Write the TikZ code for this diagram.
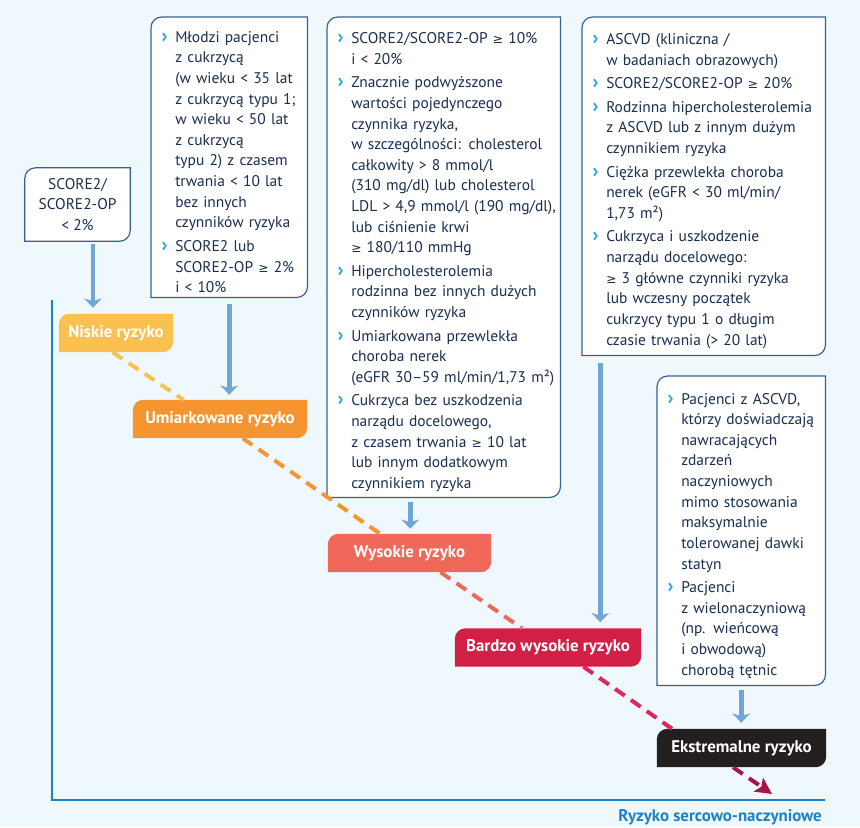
\documentclass[tikz,border=0pt]{standalone}
\usepackage{fontspec}
\setmainfont{PT Sans}
\newfontfamily\dejavu{DejaVu Sans}
\usetikzlibrary{arrows.meta,calc,backgrounds}

\definecolor{bgblue}{RGB}{239,248,252}
\definecolor{framec}{RGB}{52,98,146}
\definecolor{inkc}{RGB}{26,46,80}
\definecolor{bulc}{RGB}{38,166,224}
\definecolor{feedc}{RGB}{112,166,214}
\definecolor{axisc}{RGB}{28,130,196}
\definecolor{lowc}{RGB}{250,192,80}
\definecolor{modc}{RGB}{246,148,48}
\definecolor{highc}{RGB}{240,104,90}
\definecolor{vhighc}{RGB}{211,31,70}
\definecolor{extc}{RGB}{35,31,32}
\definecolor{trendc}{RGB}{224,38,88}
\definecolor{endc}{RGB}{166,20,74}

\newcommand{\diagfont}{\fontsize{13.2}{17.6}\selectfont}
\newcommand{\labelfont}{\fontsize{14.4}{17.6}\selectfont\bfseries}
\newcommand{\geqs}{{\dejavu\fontsize{10.5}{10.5}\selectfont ≥}}
% bulleted criteria inside the white boxes
\newenvironment{crit}{%
  \begin{list}{\textcolor{bulc}{\fontsize{16.5}{16.5}\selectfont\bfseries ›}}{%
    \setlength{\leftmargin}{20.5pt}\setlength{\labelwidth}{13pt}%
    \setlength{\labelsep}{6.5pt}\setlength{\rightmargin}{0pt}%
    \setlength{\itemsep}{2.5pt}\setlength{\parsep}{0pt}%
    \setlength{\topsep}{0pt}\setlength{\partopsep}{0pt}}\raggedright}%
  {\end{list}}

\begin{document}
\begin{tikzpicture}[>=Stealth, font=\diagfont]
  \tikzset{
    critbox/.style={text=inkc, align=left, inner xsep=0pt, inner ysep=0pt, anchor=north west},
    riskbox/.style={text=white, font=\labelfont, minimum height=1.14cm, inner sep=0pt},
    cutcorner/.style={insert path={([yshift=-0.32cm]#1.north west) arc[start angle=180,end angle=90,radius=0.32cm]
      -- (#1.north east) -- ([yshift=0.32cm]#1.south east) arc[start angle=0,end angle=-90,radius=0.32cm]
      -- (#1.south west) -- cycle}},
    feed/.style={draw=feedc, line width=4.2pt, -{Stealth[length=8pt,width=15pt,inset=2.5pt]}},
    trend/.style={line width=3.4pt, dash pattern=on 10pt off 6.5pt},
    axis/.style={draw=axisc, line width=1.8pt}
  }
  \useasboundingbox (0,0) rectangle (25.8,-24.81);

  % criteria boxes
  \node[text=inkc, align=center, minimum width=3.15cm, minimum height=2.19cm] (boxa) at (2.325,-6.135)
    {SCORE2/\\SCORE2-OP\\< 2\%};
  \node[critbox, text width=4.68cm, minimum height=8.4cm] (boxb) at (4.53,-0.51) {\begin{crit}
    \item Młodzi pacjenci\\ z cukrzycą\\ (w wieku < 35 lat\\ z cukrzycą typu 1;\\ w wieku < 50 lat\\ z cukrzycą\\ typu 2) z czasem\\ trwania < 10 lat\\ bez innych\\ czynników ryzyka
    \item SCORE2 lub\\ SCORE2-OP \geqs{} 2\%\\ i < 10\%
  \end{crit}};
  \node[critbox, text width=6.99cm, minimum height=14.4cm] (boxc) at (9.81,-0.51) {\begin{crit}
    \item SCORE2/SCORE2-OP \geqs{} 10\%\\ i < 20\%
    \item Znacznie podwyższone\\ wartości pojedynczego\\ czynnika ryzyka,\\ w szczególności: cholesterol\\ całkowity > 8 mmol/l\\ (310 mg/dl) lub cholesterol\\ LDL > 4,9 mmol/l (190 mg/dl),\\ lub ciśnienie krwi\\ \geqs{} 180/110 mmHg
    \item Hipercholesterolemia\\ rodzinna bez innych dużych\\ czynników ryzyka
    \item Umiarkowana przewlekła\\ choroba nerek\\ (eGFR 30–59 ml/min/1,73 m²)
    \item Cukrzyca bez uszkodzenia\\ narządu docelowego,\\ z czasem trwania \geqs{} 10 lat\\ lub innym dodatkowym\\ czynnikiem ryzyka
  \end{crit}};
  \node[critbox, text width=7.29cm, minimum height=10.14cm] (boxd) at (17.46,-0.51) {\begin{crit}
    \item ASCVD (kliniczna /\\ w badaniach obrazowych)
    \item SCORE2/SCORE2-OP \geqs{} 20\%
    \item Rodzinna hipercholesterolemia\\ z ASCVD lub z innym dużym\\ czynnikiem ryzyka
    \item Ciężka przewlekła choroba\\ nerek (eGFR < 30 ml/min/\\ 1,73 m²)
    \item Cukrzyca i uszkodzenie\\ narządu docelowego:\\ \geqs{} 3 główne czynniki ryzyka\\ lub wczesny początek\\ cukrzycy typu 1 o długim\\ czasie trwania (> 20 lat)
  \end{crit}};
  \node[critbox, text width=5.04cm, minimum height=9.27cm] (boxe) at (19.71,-11.28) {\begin{crit}
    \item Pacjenci z ASCVD,\\ którzy doświadczają\\ nawracających\\ zdarzeń\\ naczyniowych\\ mimo stosowania\\ maksymalnie\\ tolerowanej dawki\\ statyn
    \item Pacjenci\\ z wielonaczyniową\\ (np. wieńcową\\ i obwodową)\\ chorobą tętnic
  \end{crit}};

  % risk levels
  \node[riskbox, minimum width=3.42cm] (niskie) at (3.48,-9.99) {Niskie ryzyko};
  \node[riskbox, minimum width=5.22cm] (umiar) at (6.6,-12.57) {Umiarkowane ryzyko};
  \node[riskbox, minimum width=4.89cm] (wysokie) at (12.285,-16.59) {Wysokie ryzyko};
  \node[riskbox, minimum width=5.58cm] (bardzo) at (16.44,-19.425) {Bardzo wysokie ryzyko};
  \node[riskbox, minimum width=5.07cm] (ekstr) at (22.245,-22.44) {Ekstremalne ryzyko};

  % axis
  \coordinate (axtop) at (1.56,-9.0);
  \coordinate (axcorner) at (1.56,-24.0);
  \coordinate (axend) at (24.75,-24.0);
  \coordinate (riskend) at (23.16,-23.82);
  \draw[axis] (axtop) -- (axcorner) -- (axend);
  \node[anchor=east, text=axisc, font=\labelfont, inner sep=0pt] (axlabel) at (24.66,-24.51) {Ryzyko sercowo-naczyniowe};

  \begin{pgfonlayer}{background}
    \fill[bgblue] (0,0) rectangle (25.8,-24.81);
    \foreach \b in {boxa,boxb,boxc,boxd,boxe}
      \filldraw[fill=white, draw=framec, line width=1pt, cutcorner=\b];
    \foreach \r/\c in {niskie/lowc,umiar/modc,wysokie/highc,bardzo/vhighc,ekstr/extc}
      \fill[\c, cutcorner=\r];
  \end{pgfonlayer}

  % box -> risk level
  \draw[feed, shorten <=0.09cm, shorten >=0.18cm] ([xshift=0.465cm]boxa.south) -- ([xshift=0.465cm]boxa.south |- niskie.north);
  \draw[feed, shorten <=0.21cm, shorten >=0.15cm] (boxb.south) -- (boxb.south |- umiar.north);
  \draw[feed, shorten <=0.15cm, shorten >=0.15cm] ([xshift=-1.005cm]boxc.south) -- ([xshift=-1.005cm]boxc.south |- wysokie.north);
  \draw[feed, shorten <=0.24cm, shorten >=0.18cm] ([xshift=-3.105cm]boxd.south) -- ([xshift=-3.105cm]boxd.south |- bardzo.north);
  \draw[feed, shorten <=0.15cm, shorten >=0.18cm] (boxe.south) -- (boxe.south |- ekstr.north);

  % rising risk
  \draw[trend, lowc] ($(niskie.south west)!0.47!(niskie.south east)$) -- ($(umiar.north west)!0.29!(umiar.north east)$);
  \draw[trend, modc] ($(umiar.south west)!0.63!(umiar.south east)$) -- ($(wysokie.north west)!0.32!(wysokie.north east)$);
  \draw[trend, highc] ($(wysokie.south west)!0.69!(wysokie.south east)$) -- ($(bardzo.north west)!0.36!(bardzo.north east)$);
  \draw[trend, trendc] ($(bardzo.south west)!0.69!(bardzo.south east)$) -- ($(ekstr.north west)!0.09!(ekstr.north east)$);
  \draw[trend, endc, -{Stealth[length=14pt,width=14pt,inset=3pt]}] ($(ekstr.south west)!0.45!(ekstr.south east)$) -- (riskend);
\end{tikzpicture}
\end{document}
